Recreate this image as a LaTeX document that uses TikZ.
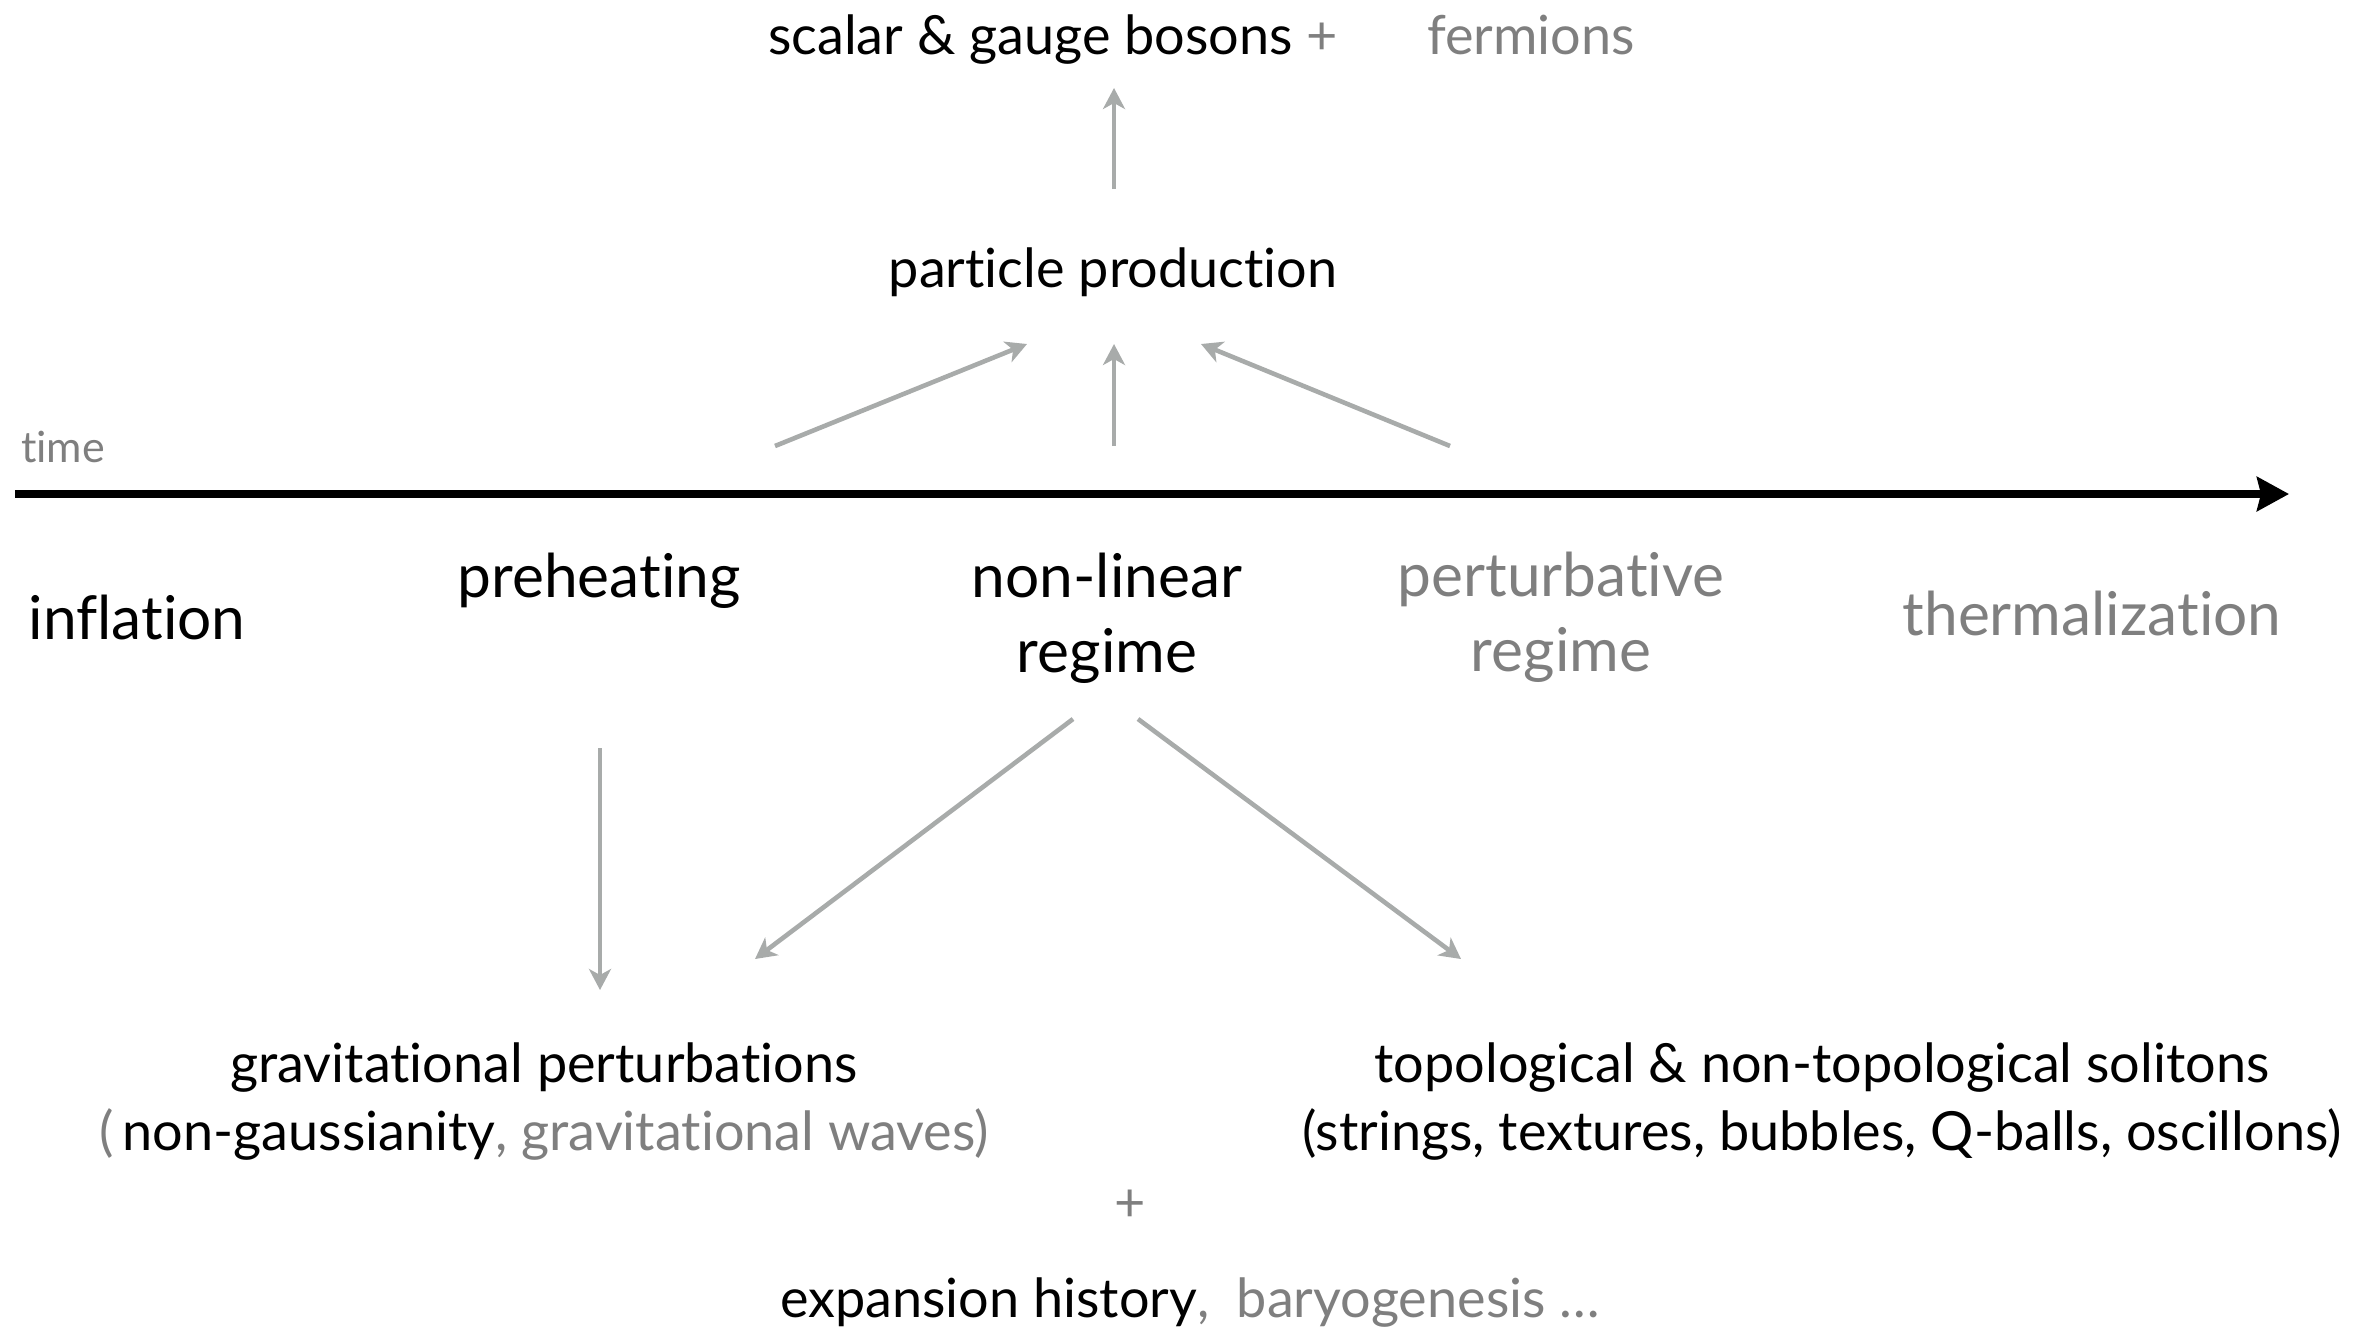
\documentclass[tikz,border=0pt]{standalone}
\usepackage{fontspec}
\setmainfont{Lato}[Ligatures={NoCommon,NoRare}]
\usetikzlibrary{arrows.meta}
\definecolor{txtgray}{HTML}{7F7F7F}
\definecolor{arrgray}{HTML}{A8ABAA}
\begin{document}
\begin{tikzpicture}[x=0.5pt,y=-0.5pt,
  lbl/.style={inner sep=0pt, outer sep=0pt, anchor=base},
  big/.style={lbl, font=\fontsize{30.2}{37.5}\selectfont, align=center},
  med/.style={lbl, font=\fontsize{27}{34}\selectfont},
  small/.style={lbl, font=\fontsize{21.5}{25}\selectfont, text=txtgray},
  flow/.style={draw=arrgray, line width=2.3pt,
    -{Stealth[length=10.5pt, width=11pt, inset=3pt]}},
  thinflow/.style={flow, line width=2.1pt},
  timeaxis/.style={draw=black, line width=4pt,
    -{Stealth[length=16pt, width=17pt, inset=2pt]}}
]
\useasboundingbox (0,0) rectangle (2369,1329);

% products at the top
\node[med] (bosons) at (1053,54) {scalar \& gauge bosons \textcolor{txtgray}{+}};
\node[med, text=txtgray] (fermions) at (1531,54) {fermions};
\node[med] (particles) at (1113,287) {particle production};

% the time axis
\node[small, anchor=base west] (timelbl) at (21,462) {time};
\coordinate (tstart) at (15,494);
\coordinate (tend) at (2289,494);
\draw[timeaxis] (tstart) -- (tend);

% stages along the axis (base anchor sits on the last line)
\node[big] (inflation) at (137,639) {inflation};
\node[big] (preheat) at (599,597) {preheating};
\node[big] (nonlin) at (1107,672) {non-linear\\regime};
\node[big, text=txtgray] (pert) at (1561,671) {perturbative\\regime};
\node[big, text=txtgray] (therm) at (2092,635) {thermalization};

% outcomes below the axis
\node[med, align=center] (grav) at (544,1150)
  {gravitational perturbations\\\textcolor{txtgray}{(}\,non-gaussianity\textcolor{txtgray}{, gravitational waves)}};
\node[med, align=center] (soliton) at (1822,1150)
  {topological \& non-topological solitons\\(strings, textures, bubbles, Q-balls, oscillons)};
\node[med, text=txtgray] (plus) at (1130,1221) {+};
\node[med, anchor=base west] (expansion) at (780,1317)
  {expansion history\textcolor{txtgray}{,\ \ baryogenesis \dots}};

% arrow end points
\coordinate (up0s) at (1114,189);
\coordinate (up0e) at (1114,88);
\coordinate (upLs) at (775,446);
\coordinate (upLe) at (1027,344);
\coordinate (upMs) at (1114,446);
\coordinate (upMe) at (1114,344);
\coordinate (upRs) at (1450,446);
\coordinate (upRe) at (1201,344);
\coordinate (dnPs) at (600,748);
\coordinate (dnPe) at (600,990);
\coordinate (dnLs) at (1073,719);
\coordinate (dnLe) at (755,959);
\coordinate (dnRs) at (1138,719);
\coordinate (dnRe) at (1461,959);

\draw[thinflow] (up0s) -- (up0e);
\draw[flow] (upLs) -- (upLe);
\draw[thinflow] (upMs) -- (upMe);
\draw[flow] (upRs) -- (upRe);
\draw[thinflow] (dnPs) -- (dnPe);
\draw[flow] (dnLs) -- (dnLe);
\draw[flow] (dnRs) -- (dnRe);
\end{tikzpicture}
\end{document}
